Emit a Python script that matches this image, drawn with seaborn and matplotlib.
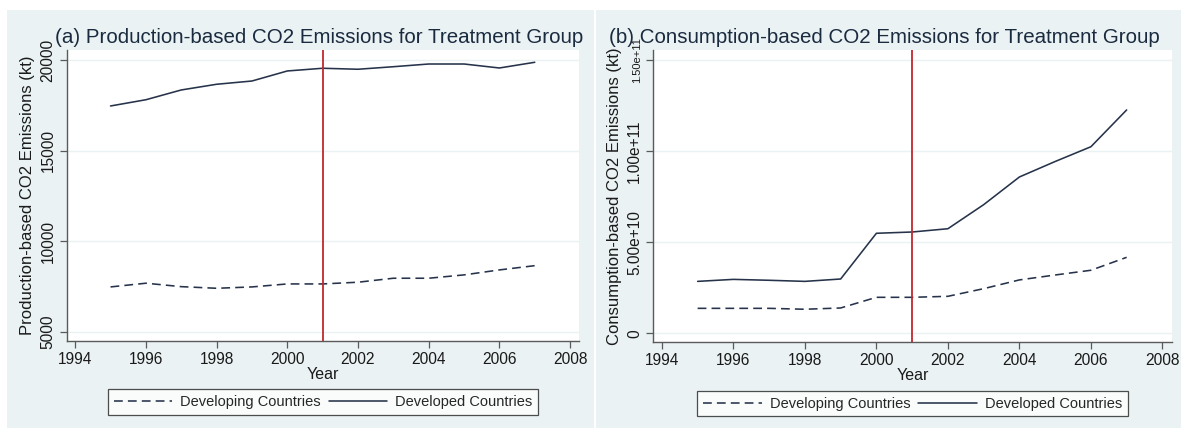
import numpy as np
import pandas as pd
import matplotlib
matplotlib.use("Agg")
import matplotlib.pyplot as plt
from matplotlib.patches import Rectangle
from matplotlib.lines import Line2D
from matplotlib.ticker import FixedLocator
import seaborn as sns

# ---- data ----
years = [1995, 1996, 1997, 1998, 1999, 2000, 2001, 2002, 2003, 2004, 2005, 2006, 2007]

prod_developing = [7475, 7680, 7490, 7400, 7475, 7640, 7640, 7735, 7955, 7955, 8140, 8415, 8650]
prod_developed = [17475, 17820, 18360, 18675, 18855, 19410, 19560, 19505, 19645, 19795, 19795, 19575, 19890]

cons_developing = [1.37e10, 1.37e10, 1.37e10, 1.32e10, 1.39e10, 1.975e10, 1.975e10, 2.03e10,
                   2.45e10, 2.93e10, 3.20e10, 3.46e10, 4.17e10]
cons_developed = [2.85e10, 2.96e10, 2.91e10, 2.85e10, 2.98e10, 5.49e10, 5.56e10, 5.74e10,
                  7.06e10, 8.58e10, 9.43e10, 1.024e11, 1.226e11]

group_labels = ["Developing Countries", "Developed Countries"]
treatment_year = 2001

x_ticks = [1994, 1996, 1998, 2000, 2002, 2004, 2006, 2008]
prod_yticks = [5000, 10000, 15000, 20000]
cons_yticks = [0, 5e10, 1e11, 1.5e11]
cons_ytick_labels = ["0", "5.00e+10", "1.00e+11", "1.50e+11"]

titles = ["(a) Production-based CO2 Emissions for Treatment Group",
          "(b) Consumption-based CO2 Emissions for Treatment Group"]
ylabels = ["Production-based CO2 Emissions (kt)",
           "Consumption-based CO2 Emissions (kt)"]

# ---- style ----
sns.set_theme(style="white")
plt.rcParams["font.family"] = ["Liberation Sans", "DejaVu Sans"]

BG = "#eaf2f3"
LINE = "#26334a"
RED = "#c0282d"
AXIS = "#5a5a5a"
W, H = 1181, 430

fig = plt.figure(figsize=(W / 100, H / 100), dpi=100, facecolor="white")

# panel backgrounds (pixel boxes: x0, y_top, x1, y_bottom)
for (x0, y0, x1, y1) in [(6.7, 10, 594, 428), (596, 9.5, 1181, 428)]:
    fig.patches.append(Rectangle((x0 / W, 1 - y1 / H), (x1 - x0) / W, (y1 - y0) / H,
                                 transform=fig.transFigure, facecolor=BG,
                                 edgecolor="none", zorder=-10))


def px_axes(left, right, top, bottom):
    a = fig.add_axes([left / W, 1 - bottom / H, (right - left) / W, (bottom - top) / H])
    a.set_zorder(1)
    return a


ax_a = px_axes(66.7, 579.3, 50, 340.7)
ax_b = px_axes(653.3, 1171.7, 50, 342.3)

dash_map = {group_labels[0]: (5.5, 3.2), group_labels[1]: ""}


def build_frame(dev, dvd):
    return pd.DataFrame({
        "Year": years * 2,
        "value": list(dev) + list(dvd),
        "Group": [group_labels[0]] * len(years) + [group_labels[1]] * len(years),
    })


panels = [
    (ax_a, build_frame(prod_developing, prod_developed), (4503, 20569), prod_yticks, None),
    (ax_b, build_frame(cons_developing, cons_developed), (-4.94e9, 1.555e11), cons_yticks, cons_ytick_labels),
]

for i, (ax, df, ylim, yt, ylab) in enumerate(panels):
    ax.set_facecolor("white")
    sns.lineplot(data=df, x="Year", y="value", style="Group", dashes=dash_map,
                 color=LINE, linewidth=1.15, ax=ax, legend=False, zorder=3)
    ax.axvline(treatment_year, color=RED, linewidth=1.3, zorder=4)

    ax.set_xlim(1993.76, 2008.26)
    ax.set_ylim(*ylim)
    ax.xaxis.set_major_locator(FixedLocator(x_ticks))
    ax.yaxis.set_major_locator(FixedLocator(yt))
    ax.grid(axis="y", color=BG, linewidth=1.0, zorder=1)
    ax.grid(axis="x", visible=False)

    for s in ["top", "right"]:
        ax.spines[s].set_visible(False)
    for s in ["left", "bottom"]:
        ax.spines[s].set_color(AXIS)
        ax.spines[s].set_linewidth(1.0)

    ax.tick_params(axis="both", which="major", direction="out", length=5, width=0.9,
                   color=AXIS, labelcolor="#1a1a1a", labelsize=11.2, pad=3,
                   bottom=True, left=True)
    if ylab is not None:
        ax.set_yticklabels(ylab)
    for lab in ax.get_yticklabels():
        lab.set_rotation(90)
        lab.set_va("center")
    if ylab is not None:
        ax.get_yticklabels()[-1].set_fontsize(8)

    ax.set_xlabel("Year", fontsize=11.5, color="#1a1a1a", labelpad=0)
    ax.set_ylabel(ylabels[i], fontsize=12, color="#1a1a1a", labelpad=4)
    ax.set_title(titles[i], fontsize=14.8, color="#1a2a3f", loc="left",
                 x=(-0.022 if i == 0 else -0.085), y=1.005, pad=4)

    handles = [Line2D([], [], color=LINE, linewidth=1.15, dashes=dash_map[group_labels[0]]),
               Line2D([], [], color=LINE, linewidth=1.15)]
    leg = ax.legend(handles, group_labels, ncol=2, loc="upper center",
                    bbox_to_anchor=(0.5, -0.166),
                    frameon=True, fancybox=False, edgecolor="#222222",
                    fontsize=10.5, handlelength=4.0, handletextpad=0.55,
                    columnspacing=0.55, borderpad=0.4, borderaxespad=0.0)
    leg.get_frame().set_linewidth(0.9)
    leg.get_frame().set_facecolor("white")

fig.savefig("out.png", dpi=100, facecolor="white")
